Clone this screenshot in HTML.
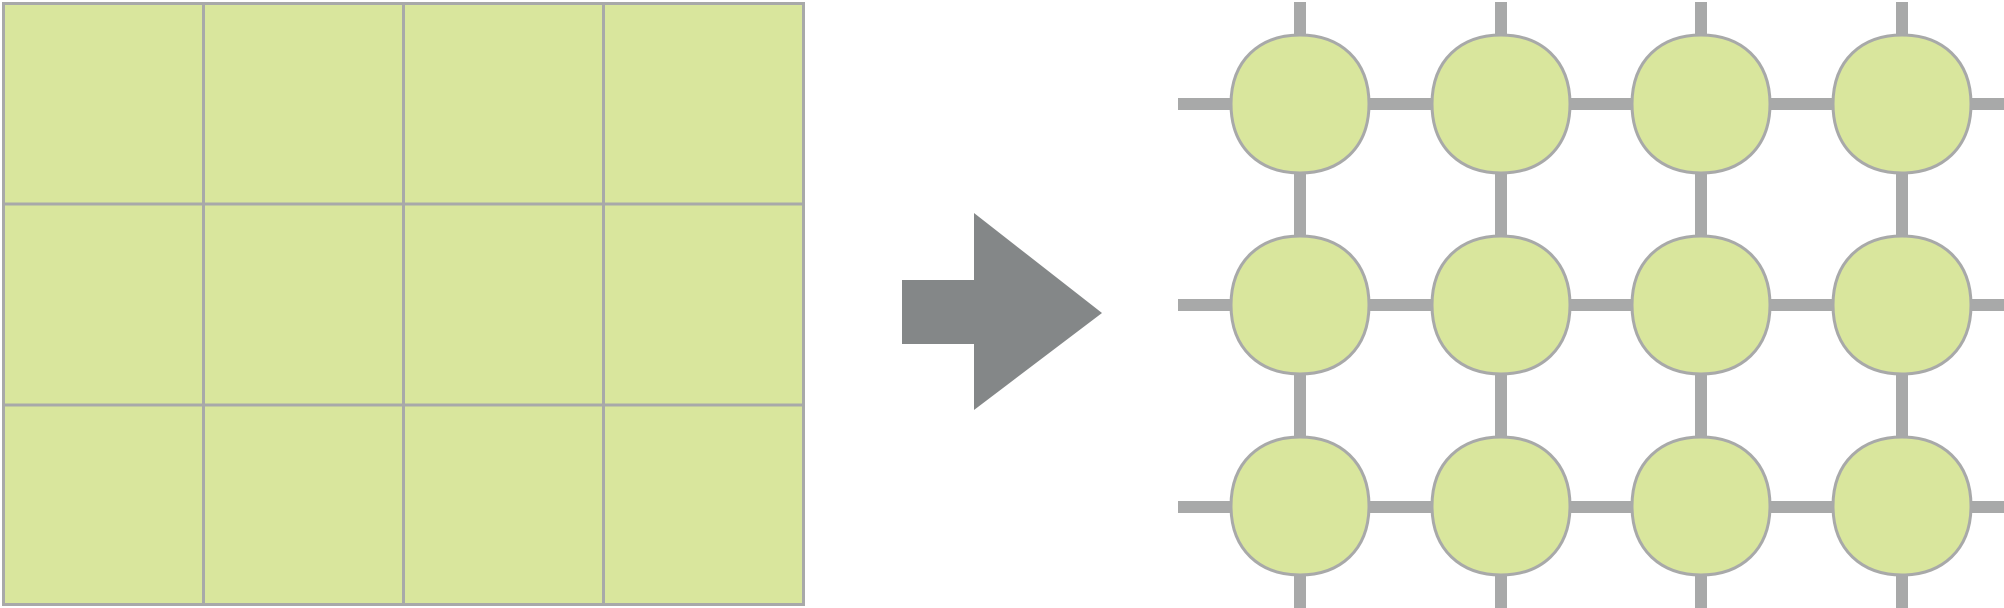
<!DOCTYPE html>
<html><head><meta charset="utf-8"><style>html,body{margin:0;padding:0;background:#fff}svg{display:block}</style></head>
<body>
<svg width="2004" height="608" viewBox="0 0 2004 608" xmlns="http://www.w3.org/2000/svg">
<g stroke="#a8a9a9" stroke-width="3" fill="#d9e69d">
<rect x="3.5" y="3.5" width="800" height="601"/>
<line x1="203.5" y1="3" x2="203.5" y2="605"/>
<line x1="403.5" y1="3" x2="403.5" y2="605"/>
<line x1="603.5" y1="3" x2="603.5" y2="605"/>
<line x1="3" y1="204" x2="804" y2="204"/>
<line x1="3" y1="405" x2="804" y2="405"/>
</g>
<polygon fill="#848788" points="902,280 974,280 974,213 1102,313 974,410 974,344 902,344"/>
<g fill="#a8a9a9">
<rect x="1178" y="98" width="826" height="12"/>
<rect x="1178" y="299" width="826" height="12"/>
<rect x="1178" y="501" width="826" height="12"/>
<rect x="1294" y="2" width="12" height="606"/>
<rect x="1495" y="2" width="12" height="606"/>
<rect x="1695" y="2" width="12" height="606"/>
<rect x="1896" y="2" width="12" height="606"/>
</g>
<defs>
<path id="n" d="M0,-69 C40,-69 69,-44 69,0 C69,44 40,69 0,69 C-40,69 -69,44 -69,0 C-69,-44 -40,-69 0,-69 Z" fill="#d9e69d" stroke="#a8a9a9" stroke-width="3"/>
</defs>
<use href="#n" x="1300" y="104"/><use href="#n" x="1501" y="104"/><use href="#n" x="1701" y="104"/><use href="#n" x="1902" y="104"/>
<use href="#n" x="1300" y="305"/><use href="#n" x="1501" y="305"/><use href="#n" x="1701" y="305"/><use href="#n" x="1902" y="305"/>
<use href="#n" x="1300" y="506"/><use href="#n" x="1501" y="506"/><use href="#n" x="1701" y="506"/><use href="#n" x="1902" y="506"/>
</svg>
</body></html>
